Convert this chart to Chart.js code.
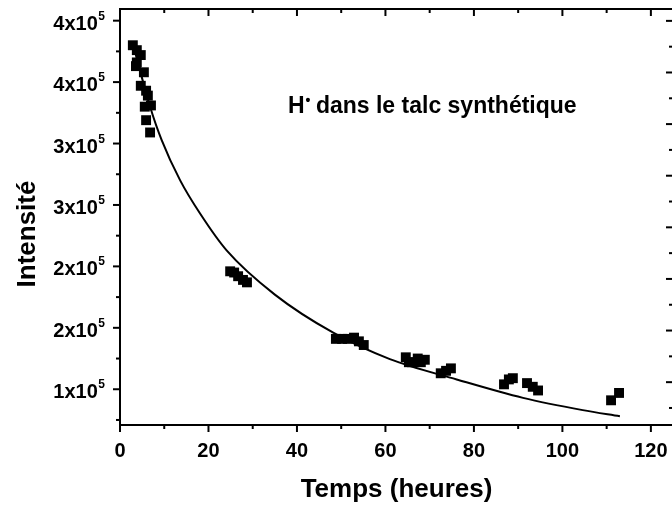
<!DOCTYPE html>
<html>
<head>
<meta charset="utf-8">
<script src="https://cdn.jsdelivr.net/npm/chart.js@4/dist/chart.umd.min.js"></script>
<style>
  html, body { margin: 0; padding: 0; background: #fff; overflow: hidden; }
  #c { display: block; }
</style>
</head>
<body>
<canvas id="c" width="680" height="506"></canvas>
<script>
// Measured decay of the H• signal
const hours = [2.9, 3.8, 4.7, 3.8, 3.6, 5.4, 4.7, 5.9, 6.3, 5.6, 7.0, 5.9, 6.8,
               24.9, 25.8, 26.7, 27.8, 28.7,
               48.8, 50.2, 51.5, 52.9, 54.0, 55.1,
               64.6, 65.3, 66.0, 67.3, 68.0, 68.9, 72.5, 73.7, 74.8,
               86.8, 87.9, 88.8, 92.0, 93.3, 94.5,
               111.0, 112.8];
const intensity = [3.80, 3.76, 3.72, 3.66, 3.63, 3.58, 3.47, 3.43, 3.39, 3.30, 3.31, 3.19, 3.09,
                   1.96, 1.95, 1.92, 1.89, 1.87,
                   1.41, 1.41, 1.41, 1.42, 1.39, 1.36,
                   1.26, 1.22, 1.22, 1.25, 1.22, 1.24, 1.13, 1.15, 1.17,
                   1.04, 1.08, 1.09, 1.05, 1.02, 0.99,
                   0.91, 0.97];   // ×10^5

// Fitted decay curve
const fitHours = [3.0, 4.4, 6.8, 9.4, 13.6, 18.1, 24.1, 35.0, 48.2, 61.0, 76.1, 91.1, 104.6, 113.0];
const fitIntensity = [3.80, 3.61, 3.30, 3.03, 2.70, 2.43, 2.13, 1.77, 1.46, 1.245, 1.08, 0.93, 0.83, 0.78]; // ×10^5

// Axis ticks
const xMajor = [0, 20, 40, 60, 80, 100, 120];
const xMinor = [10, 30, 50, 70, 90, 110];
const yMajor = [100000, 150000, 200000, 250000, 300000, 350000, 400000];
const yMinor = [75000, 125000, 175000, 225000, 275000, 325000, 375000];
const yLabels = ['1x10', '2x10', '2x10', '3x10', '3x10', '4x10', '4x10'];
const yExponent = '5';
const rMajor = [1, 2, 3, 4, 5, 6, 7, 8];
const rMinor = [0.5, 1.5, 2.5, 3.5, 4.5, 5.5, 6.5, 7.5];

const xTitle = 'Temps (heures)';
const yTitle = 'Intensité';
const noteMain = 'H';
const noteDot = '•';
const noteRest = ' dans le talc synthétique';

const FONT = '"Liberation Sans", Arial, Helvetica, sans-serif';

const axisFrame = {
  id: 'axisFrame',
  afterDatasetsDraw(chart) {
    const { ctx, chartArea: a, scales } = chart;
    const sx = scales.x, sy = scales.y, sr = scales.yR;
    const MAJ = 7, MIN = 4;
    ctx.save();
    ctx.strokeStyle = '#000';
    ctx.fillStyle = '#000';
    ctx.lineWidth = 2;
    ctx.strokeRect(a.left, a.top, a.right - a.left, a.bottom - a.top);
    const seg = (x1, y1, x2, y2) => { ctx.beginPath(); ctx.moveTo(x1, y1); ctx.lineTo(x2, y2); ctx.stroke(); };

    // bottom (outward) and top (inward) ticks
    xMajor.forEach(v => { const p = sx.getPixelForValue(v); seg(p, a.bottom, p, a.bottom + MAJ); seg(p, a.top, p, a.top + MAJ); });
    xMinor.forEach(v => { const p = sx.getPixelForValue(v); seg(p, a.bottom, p, a.bottom + MIN); seg(p, a.top, p, a.top + MIN); });
    // left (outward) ticks
    yMajor.forEach(v => { const p = sy.getPixelForValue(v); seg(a.left - MAJ, p, a.left, p); });
    yMinor.forEach(v => { const p = sy.getPixelForValue(v); seg(a.left - MIN, p, a.left, p); });
    // right (inward) ticks
    rMajor.forEach(v => { const p = sr.getPixelForValue(v); seg(a.right - MAJ, p, a.right, p); });
    rMinor.forEach(v => { const p = sr.getPixelForValue(v); seg(a.right - MIN, p, a.right, p); });

    // x tick labels
    ctx.font = 'bold 20px ' + FONT;
    ctx.textAlign = 'center';
    ctx.textBaseline = 'alphabetic';
    xMajor.forEach(v => ctx.fillText(String(v), sx.getPixelForValue(v), a.bottom + 32));

    // y tick labels with superscript exponent
    yMajor.forEach((v, i) => {
      const p = sy.getPixelForValue(v);
      ctx.font = 'bold 12px ' + FONT;
      const ew = ctx.measureText(yExponent).width;
      ctx.textAlign = 'right';
      ctx.fillText(yExponent, 105, p - 1);
      ctx.font = 'bold 20px ' + FONT;
      ctx.fillText(yLabels[i], 105 - ew - 0.5, p + 9);
    });

    // axis titles
    ctx.font = 'bold 26px ' + FONT;
    ctx.textAlign = 'center';
    ctx.fillText(xTitle, (a.left + a.right) / 2, 497);
    ctx.save();
    ctx.translate(35, 234);
    ctx.rotate(-Math.PI / 2);
    ctx.fillText(yTitle, 0, 0);
    ctx.restore();

    // annotation
    ctx.textAlign = 'left';
    let x = 288;
    const base = 113;
    ctx.font = 'bold 23px ' + FONT;
    ctx.fillText(noteMain, x, base);
    x += ctx.measureText(noteMain).width + 1;
    ctx.font = 'bold 14px ' + FONT;
    ctx.fillText(noteDot, x, base - 8);
    x += ctx.measureText(noteDot).width - 1;
    ctx.font = 'bold 23px ' + FONT;
    ctx.fillText(noteRest, x, base);
    ctx.restore();
  }
};

new Chart(document.getElementById('c'), {
  data: {
    datasets: [
      {
        type: 'line',
        data: fitHours.map((h, i) => ({ x: h, y: fitIntensity[i] * 1e5 })),
        borderColor: '#000',
        borderWidth: 2,
        pointRadius: 0,
        cubicInterpolationMode: 'monotone',
        fill: false,
        order: 0
      },
      {
        type: 'scatter',
        data: hours.map((h, i) => ({ x: h, y: intensity[i] * 1e5 })),
        pointStyle: 'rect',
        pointRadius: 7,
        backgroundColor: '#000',
        borderWidth: 0,
        order: 1
      }
    ]
  },
  options: {
    responsive: false,
    animation: false,
    events: [],
    layout: { padding: { top: 9, right: 7, left: 0, bottom: 0 } },
    plugins: { legend: { display: false }, tooltip: { enabled: false } },
    scales: {
      x: {
        type: 'linear', position: 'bottom', min: 0, max: 125,
        grid: { display: false }, border: { display: false }, ticks: { display: false },
        afterFit(s) { s.height = 81; }
      },
      y: {
        type: 'linear', position: 'left', min: 70900, max: 409500,
        grid: { display: false }, border: { display: false }, ticks: { display: false },
        afterFit(s) { s.width = 120; }
      },
      yR: {
        type: 'linear', position: 'right', min: 0.17, max: 8.23, display: false
      }
    }
  },
  plugins: [axisFrame]
});
</script>
</body>
</html>
